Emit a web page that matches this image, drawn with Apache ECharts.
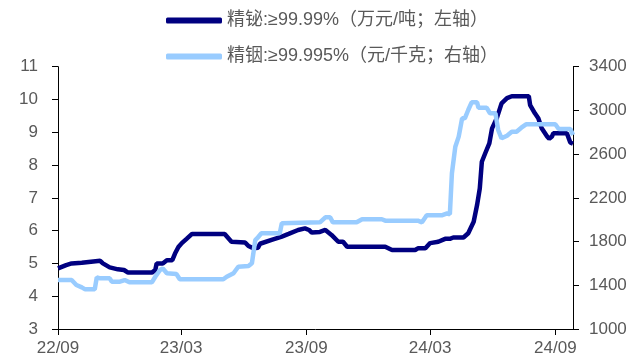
<!DOCTYPE html>
<html>
<head>
<meta charset="utf-8">
<script src="https://cdn.jsdelivr.net/npm/echarts@6/dist/echarts.min.js"></script>
<style>
html,body{margin:0;padding:0;background:#fff;}
#chart{width:633px;height:360px;}
</style>
</head>
<body>
<div id="chart"></div>
<script>
// 精铋 ≥99.99% (万元/吨, left axis)
const bismuthDates = ['2022-09-01','2022-09-13','2022-09-21','2022-10-06','2022-10-07','2022-11-02','2022-11-06','2022-11-16','2022-11-28','2022-12-07','2022-12-13','2023-01-17','2023-01-22','2023-01-24','2023-02-02','2023-02-08','2023-02-16','2023-02-20','2023-02-25','2023-03-02','2023-03-09','2023-03-17','2023-05-04','2023-05-14','2023-06-03','2023-06-08','2023-06-15','2023-06-22','2023-06-25','2023-06-27','2023-07-12','2023-07-27','2023-08-06','2023-08-20','2023-08-30','2023-09-05','2023-09-09','2023-09-21','2023-09-29','2023-10-08','2023-10-18','2023-10-25','2023-10-31','2023-12-26','2024-01-05','2024-02-08','2024-02-12','2024-02-23','2024-03-01','2024-03-13','2024-03-23','2024-03-30','2024-04-04','2024-04-19','2024-04-26','2024-05-04','2024-05-09','2024-05-13','2024-05-16','2024-05-21','2024-05-27','2024-05-31','2024-06-07','2024-06-14','2024-06-22','2024-06-29','2024-07-24','2024-07-26','2024-08-02','2024-08-07','2024-08-12','2024-08-20','2024-08-23','2024-08-27','2024-08-29','2024-09-18','2024-09-23','2024-09-27'];
const bismuthValues = [4.85,4.95,5.0,5.02,5.08,5.08,5.0,4.88,4.82,4.80,4.72,4.72,4.8,5.0,5.0,5.1,5.1,5.3,5.5,5.62,5.75,5.9,5.9,5.66,5.64,5.53,5.46,5.48,5.6,5.66,5.72,5.82,5.90,6.02,6.07,6.02,5.94,5.96,6.02,5.87,5.66,5.66,5.51,5.51,5.41,5.41,5.46,5.46,5.62,5.66,5.75,5.75,5.79,5.79,5.92,6.27,6.78,7.29,8.10,8.36,8.66,9.12,9.43,9.88,10.04,10.1,10.1,9.83,9.58,9.43,9.12,8.87,8.8,8.87,8.97,8.97,8.69,8.65];

// 精铟 ≥99.995% (元/千克, right axis)
const indiumDates = ['2022-09-01','2022-09-21','2022-09-28','2022-10-06','2022-10-11','2022-10-25','2022-10-28','2022-11-02','2022-11-16','2022-11-19','2022-12-01','2022-12-08','2022-12-15','2023-01-17','2023-01-22','2023-01-29','2023-02-02','2023-02-08','2023-02-22','2023-02-27','2023-05-02','2023-05-07','2023-05-17','2023-05-24','2023-06-08','2023-06-13','2023-06-18','2023-06-22','2023-06-27','2023-07-24','2023-07-27','2023-09-21','2023-09-29','2023-10-06','2023-10-10','2023-11-14','2023-11-22','2023-12-21','2023-12-26','2024-02-12','2024-02-18','2024-02-25','2024-03-18','2024-03-26','2024-03-30','2024-04-02','2024-04-07','2024-04-12','2024-04-17','2024-04-21','2024-04-26','2024-05-01','2024-05-09','2024-05-11','2024-05-23','2024-05-28','2024-06-05','2024-06-09','2024-06-14','2024-06-22','2024-06-29','2024-07-06','2024-07-13','2024-07-20','2024-09-01','2024-09-06','2024-09-23','2024-09-27'];
const indiumValues = [1448,1448,1403,1381,1363,1363,1473,1464,1464,1433,1433,1448,1427,1427,1478,1540,1555,1510,1503,1455,1455,1478,1510,1570,1576,1601,1814,1839,1876,1876,1967,1976,2022,2022,1976,1976,2004,2004,1991,1991,1976,2040,2040,2058,2050,2424,2668,2760,2928,2928,3004,3074,3074,3025,3025,2974,2974,2821,2745,2769,2805,2805,2842,2873,2873,2830,2830,2775];

const seriesNames = ['精铋:≥99.99%（万元/吨；左轴）','精铟:≥99.995%（元/千克；右轴）'];
const xTickDates = ['2022-09-01','2023-03-01','2023-09-01','2024-03-01','2024-09-01'];
const xTickLabels = ['22/09','23/03','23/09','24/03','24/09'];
const xStart = '2022-09-01';
const xEnd = '2024-09-27';

const DAY = 86400000;
function utc(s){const p=s.split('-').map(Number);return Date.UTC(p[0],p[1]-1,p[2]);}
function dayIdx(s){return Math.round((utc(s)-utc(xStart))/DAY);}
function pairs(d,v){return d.map((x,i)=>[dayIdx(x),v[i]]);}
const tickPos = xTickDates.map(dayIdx);
function fmt(val){const i=tickPos.indexOf(Math.round(val));return i>=0?xTickLabels[i]:'';}

const FONT = "'Liberation Sans', 'Noto Sans CJK SC', sans-serif";
const TXT = '#595959';
const chart = echarts.init(document.getElementById('chart'));
chart.setOption({
  animation:false,
  backgroundColor:'#fff',
  legend:{
    orient:'vertical', left:161, top:5,
    itemWidth:56, itemHeight:6, itemGap:15, icon:'roundRect',
    textStyle:{color:TXT, fontSize:18, fontFamily:FONT, lineHeight:21},
    data:seriesNames
  },
  grid:{left:58, right:60, top:66.7, bottom:31, containLabel:false},
  xAxis:{
    type:'value', min:0, max:dayIdx(xEnd),
    axisLine:{lineStyle:{color:'#000', width:1}},
    axisTick:{show:true, length:6, lineStyle:{color:'#000'}, customValues:tickPos},
    axisLabel:{color:TXT, fontSize:17, fontFamily:FONT, margin:11, customValues:tickPos, formatter:fmt},
    splitLine:{show:false}
  },
  yAxis:[
    {type:'value', min:3, max:11, interval:1, position:'left',
     axisLine:{show:true, lineStyle:{color:'#000'}},
     axisTick:{show:true, length:6, lineStyle:{color:'#000'}},
     axisLabel:{color:TXT, fontSize:17, fontFamily:FONT, margin:20, formatter:v=>String(v)},
     splitLine:{show:false}},
    {type:'value', min:1000, max:3400, interval:400, position:'right',
     axisLine:{show:true, lineStyle:{color:'#000'}},
     axisTick:{show:true, length:6, lineStyle:{color:'#000'}},
     axisLabel:{color:TXT, fontSize:17, fontFamily:FONT, margin:16, formatter:v=>String(v)},
     splitLine:{show:false}}
  ],
  series:[
    {name:seriesNames[0], type:'line', yAxisIndex:0, data:pairs(bismuthDates,bismuthValues),
     showSymbol:false, symbol:'none', lineStyle:{color:'#000080', width:4.5}, itemStyle:{color:'#000080'}},
    {name:seriesNames[1], type:'line', yAxisIndex:1, data:pairs(indiumDates,indiumValues),
     showSymbol:false, symbol:'none', lineStyle:{color:'#99CCFF', width:4.5}, itemStyle:{color:'#99CCFF'}}
  ]
});
</script>
</body>
</html>
